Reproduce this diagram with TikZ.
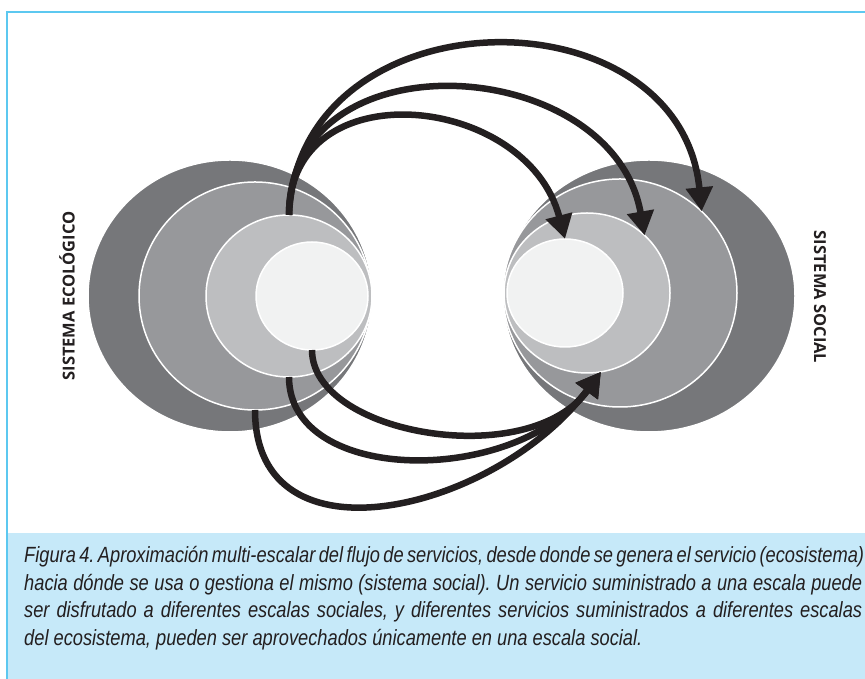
\documentclass[tikz,border=0pt]{standalone}
\usepackage{fontspec}
\setmainfont{Liberation Sans}
\newfontfamily\labelfont{Open Sans}
\newfontfamily\captionfont[FakeStretch=0.83]{Liberation Sans}
\usetikzlibrary{shapes.geometric,arrows.meta}
\definecolor{ring1}{HTML}{76777A}
\definecolor{ring2}{HTML}{97989B}
\definecolor{ring3}{HTML}{BDBEC0}
\definecolor{ring4}{HTML}{F1F2F2}
\definecolor{flowgray}{HTML}{231F20}
\definecolor{framecyan}{HTML}{5CC8F0}
\definecolor{capfill}{HTML}{C6E9F9}
\frenchspacing

\begin{document}
\begin{tikzpicture}[x=1pt,y=1pt,
    ring/.style={ellipse,draw=white,line width=1.5pt,inner sep=0pt,outer sep=0pt},
    flow/.style={line width=6.5pt,draw=flowgray,-{Triangle[length=24pt,width=26pt]}},
    side label/.style={font=\labelfont\bfseries\fontsize{16.5}{18}\selectfont,text=flowgray},
    caption line/.style={anchor=base west,inner sep=0pt,text=flowgray,
      font=\captionfont\itshape\fontsize{22}{25}\selectfont}]
  \useasboundingbox (0,0) rectangle (865,679);

  % caption box and frame
  \fill[capfill] (7,0) rectangle (865,146);
  \draw[framecyan,line width=1.5pt] (7,0) -- (7,667) -- (865,667);

  % sistema ecologico
  \node[ring,fill=ring1,minimum width=284pt,minimum height=272pt] (eco1) at (230,383) {};
  \node[ring,fill=ring2,minimum width=232pt,minimum height=228pt] (eco2) at (255,383) {};
  \node[ring,fill=ring3,minimum width=166pt,minimum height=162pt] (eco3) at (289,383) {};
  \node[ring,fill=ring4,minimum width=112pt,minimum height=108pt] (eco4) at (312,383) {};

  % sistema social
  \node[ring,fill=ring1,minimum width=292pt,minimum height=272pt] (soc1) at (649,383) {};
  \node[ring,fill=ring2,minimum width=234pt,minimum height=228pt] (soc2) at (620,386) {};
  \node[ring,fill=ring3,minimum width=166pt,minimum height=160pt] (soc3) at (587,386) {};
  \node[ring,fill=ring4,minimum width=116pt,minimum height=108pt] (soc4) at (565,386) {};

  \node[side label,rotate=90]  (ecolabel) at (67,383)  {SISTEMA ECOLÓGICO};
  \node[side label,rotate=-90] (soclabel) at (820,382) {SISTEMA SOCIAL};

  % una escala -> varias escalas
  \draw[flow] (eco3.north) .. controls +(10,224) and +(-22,224) .. (soc2.45);
  \draw[flow] (eco3.north) .. controls +(0,182) and +(-32,182) .. (soc3.45);
  \draw[flow] (eco3.north) .. controls +(0,146) and +(-38,146) .. (soc4.north);

  % varias escalas -> una escala
  \draw[flow] (eco4.south) .. controls +(0,-85) and +(-72,-100) .. (soc3.-80);
  \draw[flow] (eco3.south) .. controls +(0,-108) and +(-85,-115) .. (soc3.-80);
  \draw[flow] (eco2.south) .. controls +(0,-160) and +(-105,-140) .. (soc3.-80);

  \node[caption line] (cap1) at (24,116) {\makebox[838pt][s]{Figura 4. Aproximación multi-escalar del flujo de servicios, desde donde se genera el servicio (ecosistema)}};
  \node[caption line] (cap2) at (24,88) {\makebox[838pt][s]{hacia dónde se usa o gestiona el mismo (sistema social). Un servicio suministrado a una escala puede}};
  \node[caption line] (cap3) at (24,61) {\makebox[838pt][s]{ser disfrutado a diferentes escalas sociales, y diferentes servicios suministrados a diferentes escalas}};
  \node[caption line] (cap4) at (24,33) {del ecosistema, pueden ser aprovechados únicamente en una escala social.};
\end{tikzpicture}
\end{document}
